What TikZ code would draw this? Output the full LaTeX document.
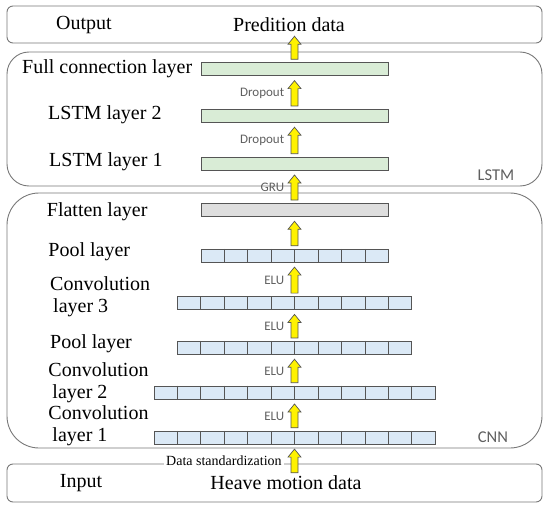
\documentclass[tikz,border=0pt]{standalone}
\usepackage{fontspec}
\setmainfont{Liberation Serif}
\newfontfamily\tagfont{Carlito}
\usepackage{tikz}
\usetikzlibrary{positioning,calc}
\usepackage{xcolor}
\definecolor{LayerGreen}{RGB}{217,236,214}
\definecolor{CellBlue}{RGB}{219,233,246}
\definecolor{FlatGray}{RGB}{222,222,222}
\definecolor{FrameGray}{RGB}{120,120,120}
\definecolor{EdgeGray}{RGB}{85,85,85}
\definecolor{TagGray}{RGB}{95,95,95}

% yellow block arrow from #2 (lower end) up to #3 (upper end), label #4 on its left
\newcommand{\flowup}[4][tag]{%
    \filldraw[flow] let \p1=(#2), \p2=(#3) in
        (\x1-3.5pt,\y1+3pt) -- (\x1-3.5pt,\y2-12.5pt) -- (\x1-6.5pt,\y2-12.5pt)
        -- (\x1,\y2-4.5pt) -- (\x1+6.5pt,\y2-12.5pt) -- (\x1+3.5pt,\y2-12.5pt)
        -- (\x1+3.5pt,\y1+3pt) -- cycle
        (\x1-10pt,{(\y1+\y2)/2-0.75pt}) node[#1, anchor=east] {#4};}

\begin{document}
\begin{tikzpicture}[
            x=1pt, y=-1pt,
            frame/.style={
                draw=FrameGray, line width=0.9pt, rounded corners=6pt,
                minimum width=535pt, inner sep=0pt
            },
            group/.style={frame, rounded corners=22pt},
            dense/.style={
                draw=EdgeGray, line width=0.8pt, fill=LayerGreen,
                minimum width=187pt, minimum height=13pt, inner sep=0pt
            },
            cellbar/.style={dense, fill=CellBlue, minimum width=#1*23.4pt},
            divider/.style={draw=EdgeGray, line width=0.7pt},
            flow/.style={fill=yellow, draw=EdgeGray, line width=0.7pt, line join=miter},
            title/.style={font=\fontsize{20}{22}\selectfont, inner sep=0pt},
            caption/.style={title, align=left, anchor=west},
            tag/.style={font=\tagfont\fontsize{13}{15}\selectfont, TagGray, inner sep=0pt},
            grouptag/.style={tag, font=\tagfont\fontsize{16.5}{18}\selectfont},
            stdtag/.style={font=\fontsize{14}{16}\selectfont, fill=white, inner sep=2.5pt}
        ]
            \useasboundingbox (0,0) rectangle (550,506);

            % Output and input boxes
            \node[frame, minimum height=37pt] (out) at (274.5,24.5) {};
            \node[frame, minimum height=38pt] (in) at (274.5,483) {};
            \node[title] (outname) at (84,25) {Output};
            \node[title] (pred) at (289,24.5) {Predition data};
            \node[title] (inname) at (81,483) {Input};
            \node[title] (heave) at (286,483) {Heave motion data};

            % LSTM and CNN groups
            \node[group, minimum height=134pt] (lstm) at (274.5,119) {};
            \node[group, rounded corners=32pt, minimum height=255pt] (cnn) at (274.5,320.5) {};
            \node[grouptag] (lstmtag) at (496,175) {LSTM};
            \node[grouptag] (cnntag) at (493,437) {CNN};

            % Layers - spacing taken from the top bar downwards
            \node[dense] (fc) at (294.5,69.2) {};
            \node[dense, below=32.8pt of fc] (lstm2) {};
            \node[dense, below=34pt of lstm2] (lstm1) {};
            \node[dense, fill=FlatGray, below=32.5pt of lstm1] (flat) {};
            \node[cellbar=8, below=32pt of flat] (pool1) {};
            \node[cellbar=10, below=33.5pt of pool1] (conv3) {};
            \node[cellbar=10, below=31pt of conv3] (pool2) {};
            \node[cellbar=12, below=31pt of pool2] (conv2) {};
            \node[cellbar=12, below=31.3pt of conv2] (conv1) {};

            % Cells of the CNN layers
            \foreach \b/\n in {pool1/8, conv3/10, pool2/10, conv2/12, conv1/12}
                \foreach \i in {2,...,\n}
                    \draw[divider] ($(\b.north west)!{(\i-1)/\n}!(\b.north east)$)
                        -- ($(\b.south west)!{(\i-1)/\n}!(\b.south east)$);

            % Layer names
            \node[caption] (fcname) at (22,69) {Full connection layer};
            \node[caption] (lstm2name) at (48,115) {LSTM layer 2};
            \node[caption] (lstm1name) at (49,162) {LSTM layer 1};
            \node[caption] (flatname) at (46.7,212) {Flatten layer};
            \node[caption] (pool1name) at (48.3,252) {Pool layer};
            \node[caption] (conv3name) at (50,297) {Convolution\\\hspace{3pt}layer 3};
            \node[caption] (pool2name) at (50,344) {Pool layer};
            \node[caption] (conv2name) at (48.3,383) {Convolution\\\hspace{4pt}layer 2};
            \node[caption] (conv1name) at (48.3,425.5) {Convolution\\\hspace{4pt}layer 1};

            % Data flow
            \coordinate (predfoot) at (fc.north |- pred.south);
            \coordinate (heavetop) at (conv1.south |- heave.north);
            \flowup[stdtag]{heavetop}{conv1.south}{Data standardization}
            \flowup{conv1.north}{conv2.south}{ELU}
            \flowup{conv2.north}{pool2.south}{ELU}
            \flowup{pool2.north}{conv3.south}{ELU}
            \flowup{conv3.north}{pool1.south}{ELU}
            \flowup{pool1.north}{flat.south}{}
            \flowup{flat.north}{lstm1.south}{GRU}
            \flowup{lstm1.north}{lstm2.south}{Dropout}
            \flowup{lstm2.north}{fc.south}{Dropout}
            \flowup{fc.north}{predfoot}{}
        \end{tikzpicture}
\end{document}
